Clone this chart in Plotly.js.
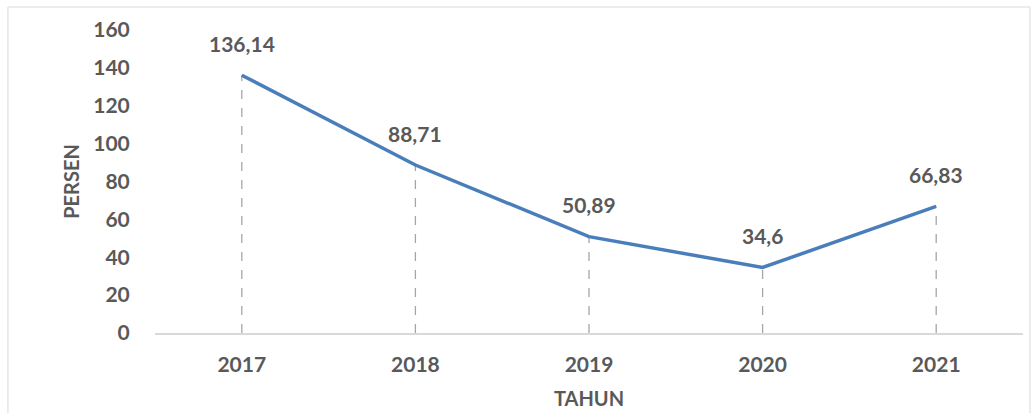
<!DOCTYPE html>
<html>
<head>
<meta charset="utf-8">
<script src="https://cdn.plot.ly/plotly-3.0.1.min.js"></script>
<style>
  body { margin: 0; background: #fff; }
  #myPlot { width: 1033px; height: 413px; }
</style>
</head>
<body>
<div id="myPlot"></div>
<script>
const tahun = ['2017', '2018', '2019', '2020', '2021'];
const persen = [136.14, 88.71, 50.89, 34.6, 66.83];
const yTicks = [0, 20, 40, 60, 80, 100, 120, 140, 160];

const fontFamily = 'Lato, "Open Sans", sans-serif';
const grey = '#595959';
const boldFont = size => ({ family: fontFamily, size: size, color: grey, weight: 'bold' });

const trace = {
  x: tahun,
  y: persen,
  mode: 'lines',
  type: 'scatter',
  line: { color: '#4a7ebb', width: 3.5 }
};

// garis bantu putus-putus dari titik ke sumbu x (x pakai indeks kategori)
const dropLines = tahun.map((t, i) => ({
  type: 'line',
  xref: 'x', yref: 'y',
  x0: i, x1: i, y0: 0, y1: persen[i],
  line: { color: '#a6a6a6', width: 1.3, dash: 'dash' },
  layer: 'below'
}));

// bingkai grafik
const border = {
  type: 'rect', xref: 'paper', yref: 'paper',
  x0: -0.1694, x1: 1.008, y0: -0.3, y1: 1.0759,
  line: { color: '#d9d9d9', width: 1 }
};

const labels = tahun.map((t, i) => ({
  x: i, y: persen[i],
  xref: 'x', yref: 'y',
  text: String(persen[i]).replace('.', ','),
  showarrow: false,
  yshift: 32,
  font: boldFont(21)
}));

const layout = {
  width: 1033,
  height: 413,
  margin: { l: 155, r: 10, t: 30, b: 80 },
  paper_bgcolor: '#fff',
  plot_bgcolor: '#fff',
  showlegend: false,
  font: { family: fontFamily, color: grey },
  xaxis: {
    type: 'category',
    range: [-0.5, 4.5],
    showgrid: false,
    showline: true,
    linecolor: '#d9d9d9',
    linewidth: 1.5,
    zeroline: false,
    ticks: 'outside',
    ticklen: 12,
    tickcolor: 'rgba(0,0,0,0)',
    tickfont: boldFont(21),
    title: { text: 'TAHUN', standoff: 17, font: boldFont(20) }
  },
  yaxis: {
    range: [0, 160],
    tickvals: yTicks,
    showgrid: false,
    showline: false,
    zeroline: false,
    ticks: 'outside',
    ticklen: 20,
    tickcolor: 'rgba(0,0,0,0)',
    tickfont: boldFont(21),
    title: { text: 'PERSEN', standoff: 8, font: boldFont(20) }
  },
  shapes: dropLines.concat([border]),
  annotations: labels
};

Plotly.newPlot('myPlot', [trace], layout, { displayModeBar: false });
</script>
</body>
</html>
